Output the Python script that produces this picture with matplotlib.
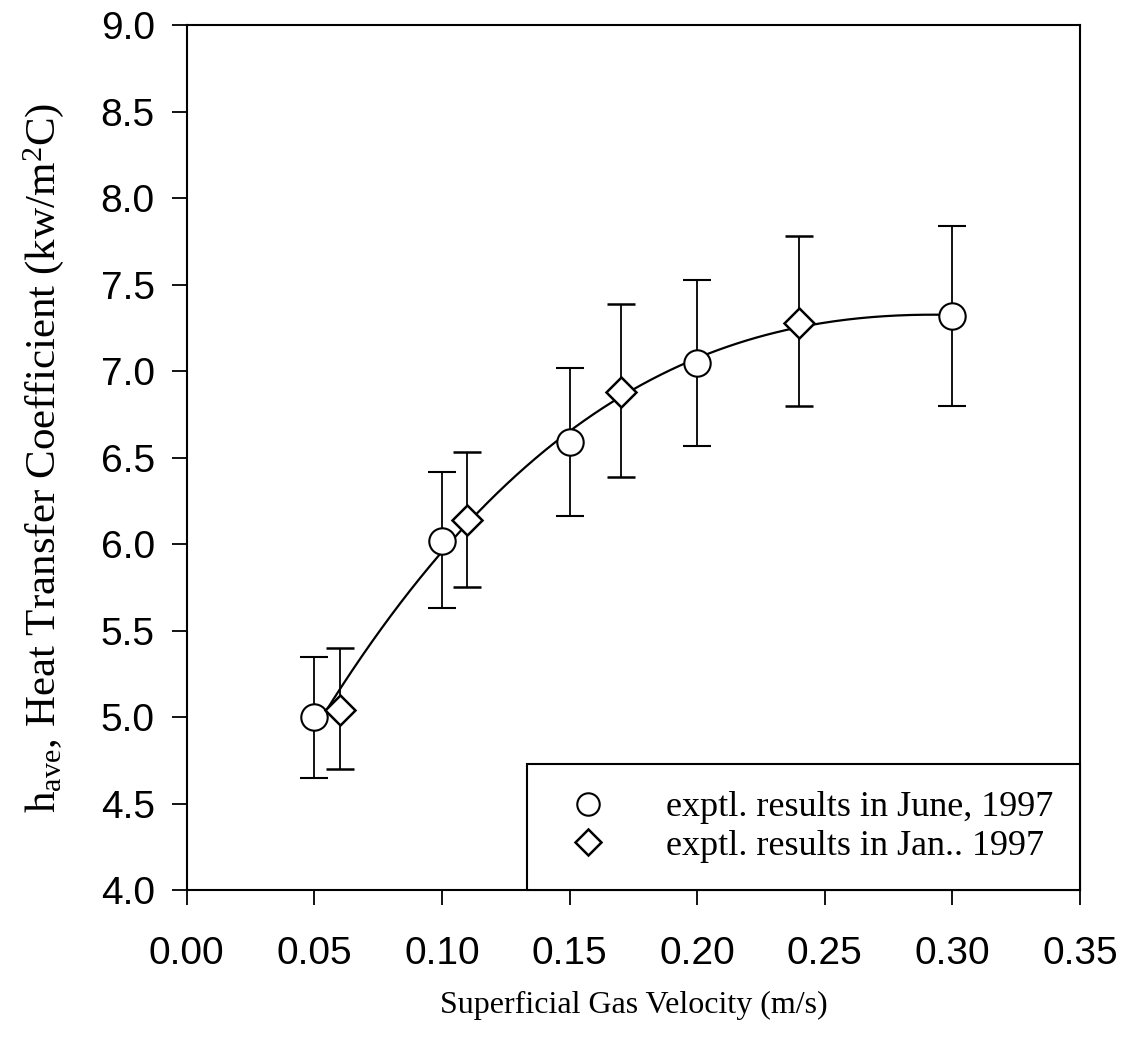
import numpy as np
import matplotlib.pyplot as plt

# June 1997 runs (circles)
june_v = [0.05, 0.10, 0.15, 0.20, 0.30]
june_h = [5.00, 6.02, 6.59, 7.05, 7.32]
june_lo = [4.65, 5.63, 6.16, 6.57, 6.80]
june_hi = [5.35, 6.42, 7.02, 7.53, 7.84]

# Jan 1997 runs (diamonds)
jan_v = [0.06, 0.11, 0.17, 0.24]
jan_h = [5.04, 6.14, 6.88, 7.28]
jan_lo = [4.70, 5.75, 6.39, 6.80]
jan_hi = [5.40, 6.53, 7.39, 7.78]

xticks = [0.00, 0.05, 0.10, 0.15, 0.20, 0.25, 0.30, 0.35]
yticks = [4.0, 4.5, 5.0, 5.5, 6.0, 6.5, 7.0, 7.5, 8.0, 8.5, 9.0]

plt.rcParams['mathtext.fontset'] = 'custom'
plt.rcParams['mathtext.rm'] = 'Liberation Serif'
plt.rcParams['mathtext.it'] = 'Liberation Serif:italic'

fig = plt.figure(figsize=(11.31, 10.43), dpi=100)
ax = fig.add_axes([0.165, 0.1467, 0.79, 0.829])

# smooth fit through all points
allv = np.array(june_v + jan_v)
allh = np.array(june_h + jan_h)
coef = np.polyfit(allv, allh, 3)
xs = np.linspace(min(june_v), max(june_v), 200)
ax.plot(xs, np.polyval(coef, xs), color='black', lw=1.6, zorder=2)

def errs(h, lo, hi):
    h = np.array(h)
    return [h - np.array(lo), np.array(hi) - h]

ax.errorbar(june_v, june_h, yerr=errs(june_h, june_lo, june_hi), fmt='o',
            ms=19, mfc='white', mec='black', mew=1.5, ecolor='black',
            elinewidth=1.3, capsize=10, capthick=1.6, zorder=3,
            label='exptl. results in June, 1997')
ax.errorbar(jan_v, jan_h, yerr=errs(jan_h, jan_lo, jan_hi), fmt='D',
            ms=15, mfc='white', mec='black', mew=1.8, ecolor='black',
            elinewidth=1.3, capsize=10, capthick=1.6, zorder=3,
            label='exptl. results in Jan.. 1997')

ax.set_xlim(0, 0.35)
ax.set_ylim(4.0, 9.0)
ax.set_xticks(xticks)
ax.set_xticklabels(['%.2f' % v for v in xticks])
ax.set_yticks(yticks)
ax.set_yticklabels(['%.1f' % v for v in yticks])
for lab in ax.get_xticklabels() + ax.get_yticklabels():
    lab.set_fontfamily('Liberation Sans')
    lab.set_fontsize(28)
ax.tick_params(direction='out', length=11, width=1.3, top=False, right=False)
ax.tick_params(axis='x', pad=22)
ax.tick_params(axis='y', pad=12)
for s in ax.spines.values():
    s.set_linewidth(1.5)

ax.set_xlabel('Superficial Gas Velocity (m/s)', fontfamily='Liberation Serif',
              fontsize=23, labelpad=14)
ax.set_ylabel(r'h$_{\rm ave}$, Heat Transfer Coefficient (kw/m$^2$C)',
              fontfamily='Liberation Serif', fontsize=31, labelpad=25)

h, l = ax.get_legend_handles_labels()
h = [hh[0] for hh in h]
leg = ax.legend(h, l, loc='lower right', bbox_to_anchor=(1.0, 0.0),
                borderaxespad=0, fancybox=False, framealpha=1,
                edgecolor='black', prop={'family': 'Liberation Serif', 'size': 26},
                borderpad=0.75, handlelength=1.9, handletextpad=1.2,
                labelspacing=0.15, markerscale=0.85)
leg.get_frame().set_linewidth(1.5)

fig.savefig('out.png', dpi=100)
